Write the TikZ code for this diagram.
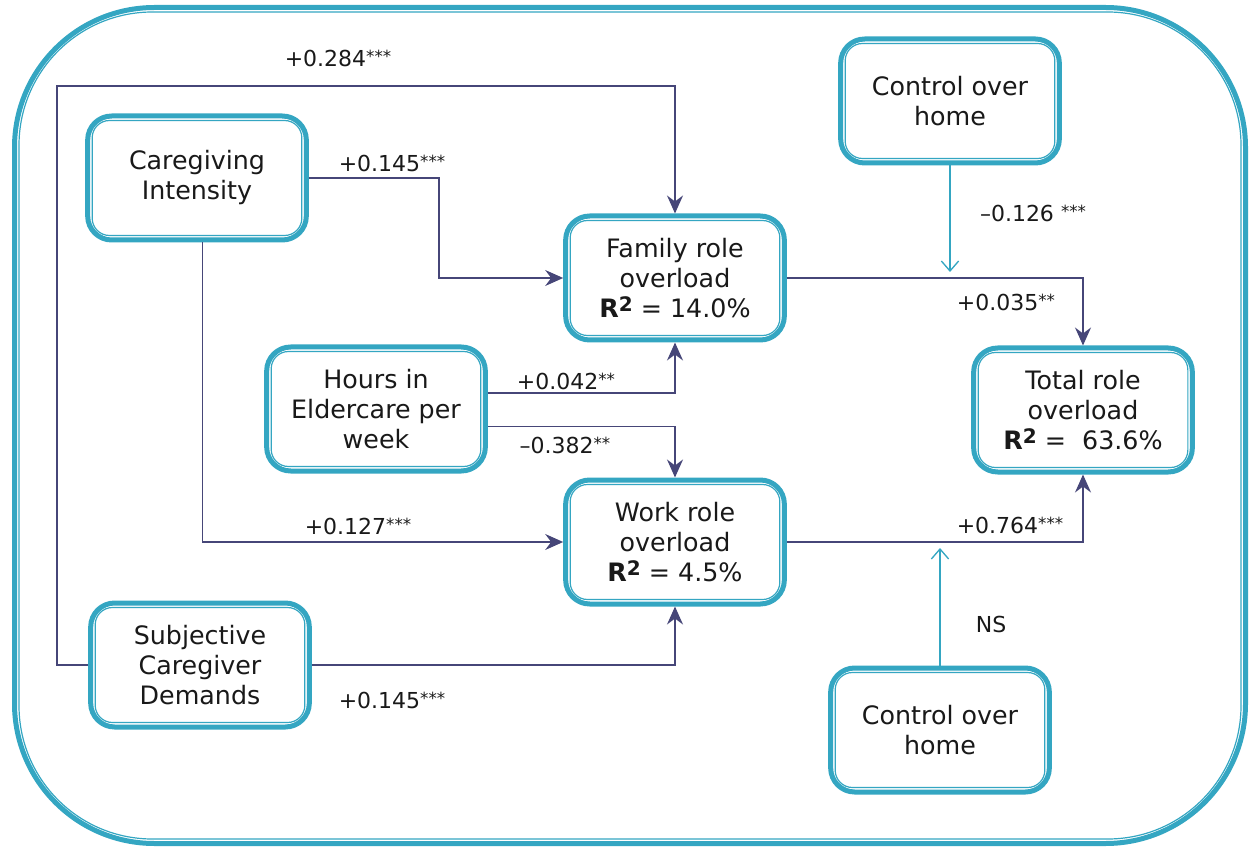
\documentclass[tikz,border=0pt]{standalone}
\usepackage{fontspec}
\setmainfont{DejaVu Sans}
\usetikzlibrary{arrows.meta}
\definecolor{rimblue}{RGB}{52,166,194}
\definecolor{linkblue}{RGB}{70,70,120}
\definecolor{inktext}{RGB}{25,25,25}
\newcommand{\stars}[1]{\raisebox{.3ex}{\fontsize{12.5}{12.5}\selectfont #1}}
\newcommand{\rsq}{\textbf{R\raisebox{.45ex}{\fontsize{15}{15}\selectfont 2}}}

\begin{document}
\begin{tikzpicture}[x=0.75pt,y=-0.75pt,
  box/.style={draw=rimblue,line width=3.75pt,rounded corners=18pt,fill=white,
    minimum width=164pt,minimum height=93pt,align=center,
    font=\fontsize{19}{22.5}\selectfont,text=inktext},
  rim/.style={draw=rimblue,line width=0.9pt,rounded corners=13pt},
  link/.style={draw=linkblue,line width=1.1pt,-{Stealth[length=13.5pt,width=12pt,inset=4.5pt]}},
  ctrl/.style={draw=rimblue,line width=1pt,-{Straight Barb[length=7.5pt,width=13pt]}},
  coef/.style={font=\fontsize{16.5}{18}\selectfont,text=inktext}]
  \useasboundingbox (0,0) rectangle (1252,848);
  \draw[draw=rimblue,line width=3.75pt,rounded corners=105pt] (14.5,7.5) rectangle (1245.5,843.5);
  \draw[rim,rounded corners=100pt] (19,12) rectangle (1241,839);

  \node[box] (care) at (197,178) {Caregiving\\Intensity};
  \node[box] (fam) at (675,278) {Family role\\overload\\\rsq{} = 14.0\%};
  \node[box] (ctop) at (950,101) {Control over\\home};
  \node[box] (hrs) at (376,409) {Hours in\\Eldercare per\\week};
  \node[box] (tot) at (1083,410) {Total role\\overload\\\rsq{} = \ 63.6\%};
  \node[box] (work) at (675,542) {Work role\\overload\\\rsq{} = 4.5\%};
  \node[box] (subj) at (200,665) {Subjective\\Caregiver\\Demands};
  \node[box] (cbot) at (940,730) {Control over\\home};
  \foreach \n in {care,fam,ctop,hrs,tot,work,subj,cbot}
    \draw[rim] ([shift={(7,7)}]\n.north west) rectangle ([shift={(-7,-7)}]\n.south east);

  \draw[link] (subj.west) -| (57,86) -| (fam.north);
  \draw[link] (care.east) -- ++(130,0) |- (fam.west);
  \draw[link] ([xshift=4pt]care.south) |- (work.west);
  \draw[link] ([yshift=12pt]hrs.east) -| (fam.south);
  \draw[link] ([yshift=-13pt]hrs.east) -| (work.north);
  \draw[link] (subj.east) -| (work.south);
  \draw[link] (fam.east) -| (tot.north);
  \draw[link] (work.east) -| (tot.south);

  \coordinate (famjoin) at (950,272);
  \coordinate (workjoin) at (940,548);
  \draw[ctrl] (ctop.south) -- (famjoin);
  \draw[ctrl] (cbot.north) -- (workjoin);

  \node[coef] (c1) at (338,58) {+0.284\stars{***}};
  \node[coef] (c2) at (392,163) {+0.145\stars{***}};
  \node[coef] (c3) at (358,526) {+0.127\stars{***}};
  \node[coef] (c4) at (566,381) {+0.042\stars{**}};
  \node[coef] (c5) at (565,445) {–0.382\stars{**}};
  \node[coef] (c6) at (392,700) {+0.145\stars{***}};
  \node[coef] (c7) at (1006,302) {+0.035\stars{**}};
  \node[coef] (c8) at (1010,525) {+0.764\stars{***}};
  \node[coef] (c9) at (1033,213) {–0.126 \stars{***}};
  \node[coef] (c10) at (991,624) {NS};
\end{tikzpicture}
\end{document}
